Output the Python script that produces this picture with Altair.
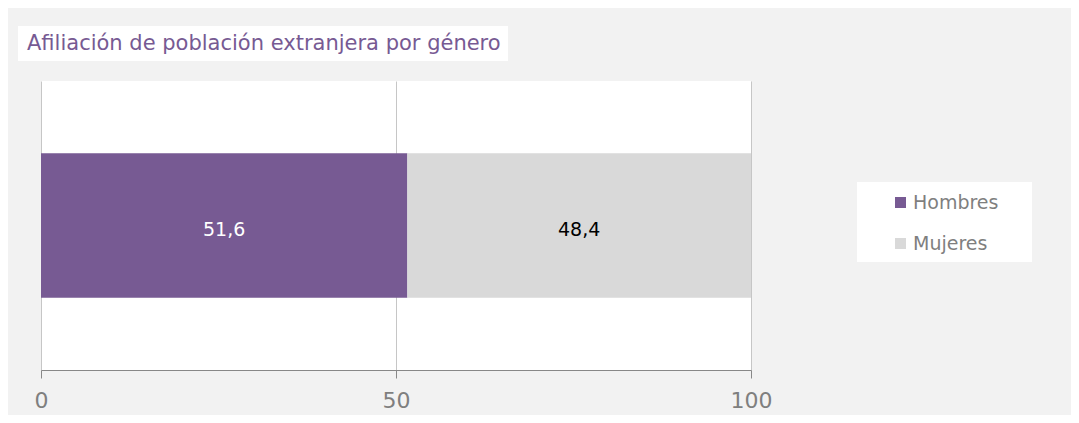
import altair as alt
import pandas as pd

# ---- data ----
genders = ["Hombres", "Mujeres"]
values = [51.6, 48.4]
category = ["Afiliación", "Afiliación"]
stack_order = [0, 1]
x_ticks = [0, 50, 100]
title_text = "Afiliación de población extranjera por género"

PURPLE = "#775a93"
GRAY = "#d9d9d9"
AXIS_GRAY = "#7f7f7f"
FONT = "DejaVu Sans"

df = pd.DataFrame({"gender": genders, "value": values, "cat": category, "order": stack_order})
one = pd.DataFrame({"k": [0]})

base = alt.Chart(df).transform_stack(
    stack="value", groupby=["cat"], as_=["v0", "v1"],
    sort=[alt.SortField("order", order="ascending")]
).transform_calculate(
    mid="(datum.v0 + datum.v1) / 2",
    label="replace(format(datum.value, '.1f'), '.', ',')"
)

x_scale = alt.Scale(domain=[0, 100], nice=False, zero=True)
y_scale = alt.Scale(paddingInner=0, paddingOuter=0.5)

bars = base.mark_bar().encode(
    x=alt.X("v0:Q", scale=x_scale, axis=alt.Axis(
        values=x_ticks, title=None, grid=True, gridColor="#c6c6c6", gridWidth=1,
        domainColor="#888888", tickColor="#888888", tickSize=8, tickWidth=1,
        labelFontSize=22, labelFont=FONT, labelColor=AXIS_GRAY, labelPadding=12,
        labelFlush=False)),
    x2="v1:Q",
    y=alt.Y("cat:N", scale=y_scale, axis=None),
    color=alt.Color("gender:N", scale=alt.Scale(domain=genders, range=[PURPLE, GRAY]),
                    legend=alt.Legend(orient="none", legendX=850, legendY=112, title=None,
                                      symbolType="square", symbolSize=121, symbolStrokeWidth=0,
                                      labelFontSize=19, labelFont=FONT, labelColor=AXIS_GRAY,
                                      labelOffset=3, rowPadding=21, padding=0)),
)

labels = base.mark_text(fontSize=19, font=FONT, dy=4).encode(
    x=alt.X("mid:Q", scale=x_scale),
    y=alt.Y("cat:N", scale=y_scale),
    text="label:N",
    color=alt.condition("datum.gender == 'Hombres'", alt.value("white"), alt.value("black")),
)

title_box = alt.Chart(one).mark_rect(color="white").encode(
    x=alt.value(-23), x2=alt.value(467), y=alt.value(-55), y2=alt.value(-20)
)
title = alt.Chart(one).mark_text(
    text=title_text, align="left", baseline="alphabetic", fontSize=21, font=FONT, color=PURPLE
).encode(x=alt.value(-14), y=alt.value(-31))

legend_box = alt.Chart(one).mark_rect(color="white").encode(
    x=alt.value(816), x2=alt.value(991), y=alt.value(101), y2=alt.value(181)
)

chart = alt.layer(title_box, title, legend_box, bars, labels).properties(
    width=710, height=289,
    autosize=alt.AutoSizeParams(type="none"),
    padding={"left": 33, "top": 73, "right": 320, "bottom": 45},
    background="#f2f2f2",
).configure_view(fill="white", strokeWidth=0)

chart.save("out.html", embed_options={"renderer": "svg", "actions": False})
